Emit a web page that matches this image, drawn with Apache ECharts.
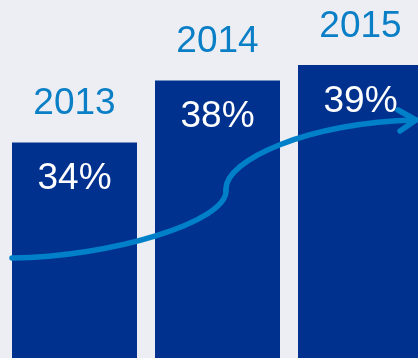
<!DOCTYPE html>
<html>
<head>
<meta charset="utf-8">
<script src="https://cdn.jsdelivr.net/npm/echarts@6/dist/echarts.min.js"></script>
<style>
  html, body { margin: 0; padding: 0; background: #edeef3; }
  #chart { width: 418px; height: 358px; }
</style>
</head>
<body>
<div id="chart"></div>
<script>
// Share by year
const years = ['2013', '2014', '2015'];
const shares = [34, 38, 39];

const FONT = 'Liberation Sans';
const BAR_COLOR = '#00318f';
const ACCENT = '#0a7fc6';
const ARROW = '#0080c8';

const arrowStyle = { fill: null, stroke: ARROW, lineWidth: 5.5, lineCap: 'round', lineJoin: 'round' };

const chart = echarts.init(document.getElementById('chart'));

chart.setOption({
  backgroundColor: '#edeef3',
  animation: false,
  grid: { left: 3, top: 0, width: 429, height: 358, containLabel: false, outerBoundsMode: 'none' },
  xAxis: { type: 'category', data: years, show: false },
  yAxis: { type: 'value', min: 20.1, max: 43.2, show: false, splitLine: { show: false } },
  series: [
    {
      type: 'bar',
      data: shares,
      barWidth: 125,
      barGap: '-100%',
      itemStyle: { color: BAR_COLOR },
      label: {
        show: true,
        position: 'insideTop',
        distance: 18,
        formatter: p => p.value + '%',
        color: '#ffffff',
        fontFamily: FONT,
        fontSize: 37
      },
      z: 2
    },
    {
      // year captions sitting on top of each bar
      type: 'bar',
      data: shares,
      barWidth: 125,
      barGap: '-100%',
      itemStyle: { color: 'rgba(0,0,0,0)' },
      label: {
        show: true,
        position: 'top',
        distance: 20,
        formatter: p => p.name,
        color: ACCENT,
        fontFamily: FONT,
        fontSize: 37
      },
      z: 3
    }
  ],
  graphic: [
    {
      // growth arrow: S-shaped shaft
      type: 'bezierCurve',
      z: 100,
      shape: { x1: 12, y1: 258, cpx1: 110, cpy1: 257, cpx2: 228, cpy2: 222, x2: 226, y2: 190 },
      style: arrowStyle
    },
    {
      type: 'bezierCurve',
      z: 100,
      shape: { x1: 226, y1: 190, cpx1: 224, cpy1: 160, cpx2: 310, cpy2: 122, x2: 416, y2: 120 },
      style: arrowStyle
    },
    {
      // arrow head
      type: 'polyline',
      z: 100,
      shape: { points: [[398, 110], [416, 120], [400, 131]] },
      style: arrowStyle
    }
  ]
});
</script>
</body>
</html>
